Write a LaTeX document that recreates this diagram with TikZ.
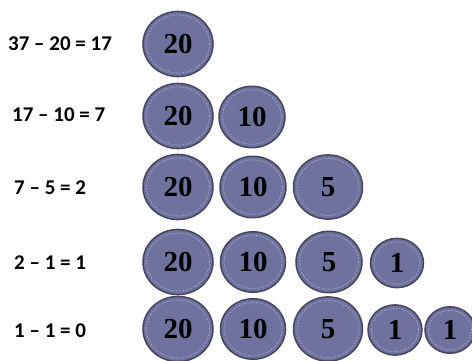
\documentclass[tikz,border=0pt]{standalone}
\usepackage{fontspec}
\setmainfont{Carlito}
\newfontfamily\coinfont{Liberation Serif}
\usetikzlibrary{shapes.geometric}
\newcommand{\mycoin}[5]{%
  \node[coin=#4] (#1) at (#2,#3) {#5};
  \node[ring=#4] (#1r) at (#1.center) {};
}
\begin{document}
\begin{tikzpicture}[x=1pt,y=-1pt,
  eq/.style={anchor=west,font=\fontsize{21}{23}\selectfont\bfseries,text=black,inner sep=0pt},
  coin/.style={draw=coinedge,line width=1.5pt,fill=coinfill,ellipse,minimum width=#1,minimum height=#1*0.93,inner sep=0pt,
    font=\coinfont\fontsize{29}{30}\selectfont\bfseries,text=black},
  ring/.style={draw=coinring,line width=0.7pt,dash pattern=on 1.5pt off 1.5pt,ellipse,minimum width=#1-7,minimum height=#1*0.93-7,inner sep=0pt},
  ]
\definecolor{coinfill}{HTML}{6F729E}
\definecolor{coinedge}{HTML}{45455F}
\definecolor{coinring}{HTML}{A9ABC6}
\useasboundingbox (0,0) rectangle (472,360);
\begin{scope}
\clip (0,0) rectangle (472,360);
% equations
\node[eq] (e1) at (8,44) {37 -- 20 = 17};
\node[eq] (e2) at (12,115) {17 -- 10 = 7};
\node[eq] (e3) at (14,188) {7 -- 5 = 2};
\node[eq] (e4) at (14,263) {2 -- 1 = 1};
\node[eq] (e5) at (14,331) {1 -- 1 = 0};
% row 1
\mycoin{c11}{178}{44}{70}{20}
% row 2
\mycoin{c21}{178}{116}{70}{20}
\mycoin{c22}{252}{117}{66}{10}
% row 3
\mycoin{c31}{178}{187}{70}{20}
\mycoin{c32}{253}{187}{66}{10}
\mycoin{c33}{328}{187}{69}{5}
% row 4
\mycoin{c41}{178}{262}{70}{20}
\mycoin{c42}{253}{262}{65}{10}
\mycoin{c43}{329}{262}{66}{5}
\mycoin{c44}{397}{263}{53}{1}
% row 5
\mycoin{c51}{178}{329}{70}{20}
\mycoin{c52}{253}{329}{65}{10}
\mycoin{c53}{328}{329}{69}{5}
\mycoin{c54}{395}{330}{54}{1}
\mycoin{c55}{450}{330}{50}{1}
\end{scope}
\end{tikzpicture}
\end{document}
